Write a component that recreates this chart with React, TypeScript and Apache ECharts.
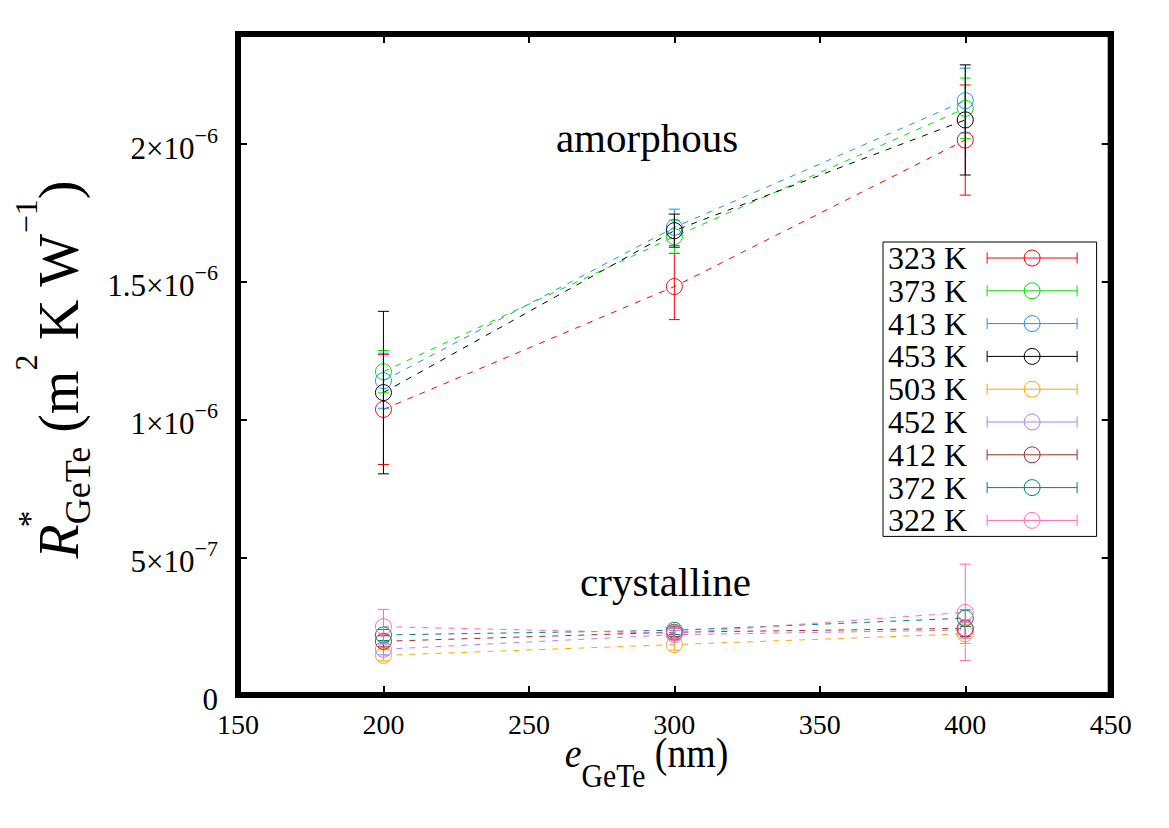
import React, { useEffect, useRef } from "react";
import * as echarts from "echarts";

const SERIF = "'Liberation Serif', 'Times New Roman', serif";

// film thickness e_GeTe (nm)
const thickness = [200, 300, 400];

const seriesNames = ["323 K", "373 K", "413 K", "453 K", "503 K", "452 K", "412 K", "372 K", "322 K"];
const seriesColors = ["#ff0000", "#00e000", "#1e90ff", "#000000", "#ffa500", "#b380ff", "#a52a2a", "#008080", "#ff69b4"];

// amorphous
const r323 = [1.037e-6, 1.483e-6, 2.015e-6];
const e323 = [0.2e-6, 0.12e-6, 0.2e-6];
const r373 = [1.174e-6, 1.664e-6, 2.13e-6];
const e373 = [0.077e-6, 0.06e-6, 0.11e-6];
const r413 = [1.141e-6, 1.698e-6, 2.158e-6];
const e413 = [0.1e-6, 0.066e-6, 0.118e-6];
const r453 = [1.098e-6, 1.686e-6, 2.088e-6];
const e453 = [0.295e-6, 0.06e-6, 0.2e-6];
// crystalline
const r503 = [0.144e-6, 0.183e-6, 0.222e-6];
const e503 = [0.02e-6, 0.02e-6, 0.035e-6];
const r452 = [0.166e-6, 0.219e-6, 0.236e-6];
const e452 = [0.02e-6, 0.015e-6, 0.03e-6];
const r412 = [0.195e-6, 0.228e-6, 0.242e-6];
const e412 = [0.02e-6, 0.015e-6, 0.03e-6];
const r372 = [0.218e-6, 0.235e-6, 0.279e-6];
const e372 = [0.02e-6, 0.015e-6, 0.03e-6];
const r322 = [0.248e-6, 0.224e-6, 0.3e-6];
const e322 = [0.063e-6, 0.02e-6, 0.175e-6];

const seriesValues = [r323, r373, r413, r453, r503, r452, r412, r372, r322];
const seriesErrors = [e323, e373, e413, e453, e503, e452, e412, e372, e322];

const LEGEND_ICON =
  "path://M0,8L90,8M0,2.5L0,13.5M90,2.5L90,13.5M53,8A8,8,0,1,1,37,8A8,8,0,1,1,53,8";

function yFormatter(v: number): string {
  if (Math.abs(v) < 1e-12) return "{b|0}";
  const e = Math.floor(Math.log10(v) + 1e-9);
  const m = Math.round((v / Math.pow(10, e)) * 100) / 100;
  return `{b|${m}×10}{s|−${Math.abs(e)}}`;
}

function mkAxisLine(show: boolean) {
  return { show, onZero: false, lineStyle: { color: "#000", width: 6, cap: "square" } };
}
function mkAxisTick() {
  return { show: true, inside: true, length: 9, lineStyle: { color: "#000", width: 2 } };
}

export default function App() {
  const ref = useRef<HTMLDivElement>(null);

  useEffect(() => {
    document.body.style.margin = "0";
    if (!ref.current) return;
    const chart = echarts.init(ref.current, null, { renderer: "svg" });

    const lineSeries = seriesNames.map((name, i) => ({
      type: "line",
      name,
      data: thickness.map((x, j) => [x, seriesValues[i][j]]),
      symbol: "none",
      lineStyle: { color: seriesColors[i], width: 1, type: [6, 7] },
      itemStyle: { color: seriesColors[i] },
      z: 2,
      silent: true,
    }));

    const errSeries = seriesNames.map((name, i) => ({
      type: "custom",
      name: name + " err",
      data: thickness.map((x, j) => [x, seriesValues[i][j], seriesErrors[i][j]]),
      encode: { x: 0, y: 1 },
      z: 3,
      silent: true,
      renderItem: (params: any, api: any) => {
        const x = api.value(0);
        const y = api.value(1);
        const e = api.value(2);
        const p = api.coord([x, y]);
        const top = api.coord([x, y + e]);
        const bot = api.coord([x, y - e]);
        const col = seriesColors[i];
        const st = { stroke: col, lineWidth: 1, fill: "none" };
        const hw = 5.5;
        return {
          type: "group",
          children: [
            { type: "line", shape: { x1: p[0], y1: top[1], x2: p[0], y2: bot[1] }, style: st },
            { type: "line", shape: { x1: p[0] - hw, y1: top[1], x2: p[0] + hw, y2: top[1] }, style: st },
            { type: "line", shape: { x1: p[0] - hw, y1: bot[1], x2: p[0] + hw, y2: bot[1] }, style: st },
            { type: "circle", shape: { cx: p[0], cy: p[1], r: 8 }, style: st },
          ],
        };
      },
    }));

    const option: any = {
      animation: false,
      backgroundColor: "#fff",
      grid: {
        show: true,
        left: 238,
        right: 58.3,
        top: 34,
        bottom: 133,
        containLabel: false,
        borderColor: "#000",
        borderWidth: 6,
        backgroundColor: "rgba(0,0,0,0)",
        z: 5,
      },
      xAxis: [
        {
          type: "value",
          min: 150,
          max: 450,
          interval: 50,
          position: "bottom",
          axisLine: mkAxisLine(true),
          axisTick: mkAxisTick(),
          splitLine: { show: false },
          axisLabel: { fontFamily: SERIF, fontSize: 28, color: "#000", margin: 15 },
        },
        {
          type: "value",
          min: 150,
          max: 450,
          interval: 50,
          position: "top",
          axisLine: mkAxisLine(true),
          axisTick: mkAxisTick(),
          splitLine: { show: false },
          axisLabel: { show: false },
        },
      ],
      yAxis: [
        {
          type: "value",
          min: 0,
          max: 2.4e-6,
          interval: 5e-7,
          position: "left",
          axisLine: mkAxisLine(true),
          axisTick: mkAxisTick(),
          splitLine: { show: false },
          axisLabel: {
            showMaxLabel: false,
            margin: 20,
            color: "#000",
            formatter: yFormatter,
            rich: {
              b: { fontFamily: SERIF, fontSize: 31, lineHeight: 28, color: "#000", padding: [8, 0, 0, 0], verticalAlign: "middle" },
              s: { fontFamily: SERIF, fontSize: 22, lineHeight: 20, color: "#000", padding: [0, 0, 18, 0], verticalAlign: "middle" },
            },
          },
        },
        {
          type: "value",
          min: 0,
          max: 2.4e-6,
          interval: 5e-7,
          position: "right",
          axisLine: mkAxisLine(true),
          axisTick: mkAxisTick(),
          splitLine: { show: false },
          axisLabel: { show: false },
        },
      ],
      legend: {
        orient: "vertical",
        left: 883,
        top: 242,
        align: "right",
        padding: [0, 19, 0, 5],
        itemGap: 0.8,
        itemWidth: 90,
        itemHeight: 16,
        borderColor: "#000",
        borderWidth: 1,
        backgroundColor: "#fff",
        selectedMode: false,
        textStyle: { fontFamily: SERIF, fontSize: 32, lineHeight: 32, color: "#000", padding: [0, 15, 0, 0] },
        data: seriesNames.map((name, i) => ({
          name,
          icon: LEGEND_ICON,
          itemStyle: { color: "rgba(0,0,0,0)", borderColor: seriesColors[i], borderWidth: 1 },
        })),
        z: 10,
      },
      graphic: [
        {
          type: "text",
          x: 647,
          y: 137.5,
          style: { text: "amorphous", fontFamily: SERIF, fontSize: 41, fill: "#000", align: "center", verticalAlign: "middle" },
        },
        {
          type: "text",
          x: 665.5,
          y: 581.5,
          style: { text: "crystalline", fontFamily: SERIF, fontSize: 41, fill: "#000", align: "center", verticalAlign: "middle" },
        },
        {
          type: "text",
          x: 646.5,
          y: 752.8,
          scaleX: 0.9,
          style: {
            text: "{i|e}{sub|GeTe}{m| (nm)}",
            align: "center",
            verticalAlign: "middle",
            rich: {
              i: { fontFamily: SERIF, fontSize: 42, lineHeight: 42, fontStyle: "italic", fill: "#000", verticalAlign: "middle" },
              m: { fontFamily: SERIF, fontSize: 42, lineHeight: 42, fill: "#000", verticalAlign: "middle" },
              sub: { fontFamily: SERIF, fontSize: 33, lineHeight: 33, fill: "#000", padding: [46.2, 0, 0, 0], verticalAlign: "middle" },
            },
          },
        },
        {
          type: "text",
          x: 59.1,
          y: 369.5,
          rotation: Math.PI / 2,
          style: {
            text: "{i|R}{sub|GeTe}{m| (m}{sup|2}{m| K W}{sup|−1}{m|)}",
            align: "center",
            verticalAlign: "middle",
            rich: {
              i: { fontFamily: SERIF, fontSize: 56, lineHeight: 56, fontStyle: "italic", fill: "#000", verticalAlign: "middle" },
              m: { fontFamily: SERIF, fontSize: 56, lineHeight: 56, fill: "#000", verticalAlign: "middle" },
              sub: { fontFamily: SERIF, fontSize: 36, lineHeight: 36, fill: "#000", padding: [37.5, 0, 0, 0], verticalAlign: "middle" },
              sup: { fontFamily: SERIF, fontSize: 32, lineHeight: 32, fill: "#000", padding: [0, 0, 65.8, 0], verticalAlign: "middle" },
            },
          },
        },
        {
          type: "text",
          x: 29,
          y: 519,
          rotation: Math.PI / 2,
          style: { text: "*", fontFamily: SERIF, fontSize: 34, fill: "#000", align: "center", verticalAlign: "middle" },
        },
      ],
      series: [...lineSeries, ...errSeries],
    };

    chart.setOption(option);
    return () => chart.dispose();
  }, []);

  return <div ref={ref} style={{ width: 1169, height: 828 }} />;
}
